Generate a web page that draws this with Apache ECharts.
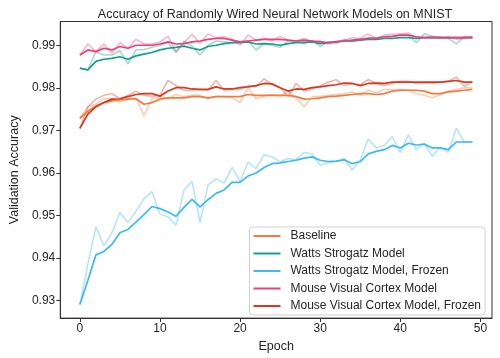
<!DOCTYPE html>
<html>
<head>
<meta charset="utf-8">
<script src="https://cdn.jsdelivr.net/npm/echarts@6/dist/echarts.min.js"></script>
<style>
html, body { margin: 0; padding: 0; background: #fff; }
#main { width: 500px; height: 358px; }
</style>
</head>
<body>
<div id="main"></div>
<script>
var myChart = echarts.init(document.getElementById('main'));

var epochs = [0, 1, 2, 3, 4, 5, 6, 7, 8, 9, 10, 11, 12, 13, 14, 15, 16, 17, 18, 19,
	20, 21, 22, 23, 24, 25, 26, 27, 28, 29, 30, 31, 32, 33, 34, 35, 36, 37, 38, 39,
	40, 41, 42, 43, 44, 45, 46, 47, 48, 49];

// raw accuracies (light lines)
var baselineRaw = [0.9729, 0.9756, 0.9762, 0.9775, 0.9775, 0.9767, 0.9775, 0.9777, 0.9735, 0.9775,
	0.9780, 0.9775, 0.9785, 0.9780, 0.9783, 0.9783, 0.9775, 0.9781, 0.9780, 0.9777,
	0.9766, 0.9801, 0.9775, 0.9781, 0.9785, 0.9781, 0.9793, 0.9777, 0.9756, 0.9780,
	0.9781, 0.9783, 0.9785, 0.9787, 0.9791, 0.9783, 0.9795, 0.9789, 0.9797, 0.9797,
	0.9797, 0.9795, 0.9787, 0.9783, 0.9777, 0.9785, 0.9793, 0.9797, 0.9801, 0.9801];
var wattsRaw = [0.9847, 0.9843, 0.9886, 0.9878, 0.9878, 0.9888, 0.9857, 0.9890, 0.9891, 0.9896,
	0.9901, 0.9907, 0.9884, 0.9911, 0.9899, 0.9878, 0.9901, 0.9911, 0.9909, 0.9907,
	0.9909, 0.9911, 0.9890, 0.9905, 0.9901, 0.9896, 0.9911, 0.9911, 0.9904, 0.9913,
	0.9898, 0.9909, 0.9905, 0.9915, 0.9909, 0.9915, 0.9919, 0.9919, 0.9921, 0.9922,
	0.9925, 0.9925, 0.9907, 0.9928, 0.9922, 0.9921, 0.9917, 0.9904, 0.9922, 0.9921];
var wattsFrozenRaw = [0.9290, 0.9386, 0.9473, 0.9428, 0.9459, 0.9507, 0.9483, 0.9510, 0.9539, 0.9556,
	0.9503, 0.9497, 0.9477, 0.9560, 0.9580, 0.9483, 0.9572, 0.9586, 0.9576, 0.9613,
	0.9580, 0.9626, 0.9610, 0.9643, 0.9638, 0.9626, 0.9634, 0.9632, 0.9648, 0.9645,
	0.9618, 0.9624, 0.9627, 0.9634, 0.9607, 0.9630, 0.9680, 0.9659, 0.9665, 0.9686,
	0.9648, 0.9690, 0.9655, 0.9670, 0.9639, 0.9661, 0.9649, 0.9706, 0.9673, 0.9673];
var mouseRaw = [0.9878, 0.9904, 0.9886, 0.9904, 0.9882, 0.9907, 0.9894, 0.9915, 0.9904, 0.9904,
	0.9909, 0.9922, 0.9886, 0.9907, 0.9927, 0.9905, 0.9928, 0.9919, 0.9921, 0.9915,
	0.9901, 0.9925, 0.9913, 0.9917, 0.9911, 0.9922, 0.9913, 0.9911, 0.9917, 0.9909,
	0.9911, 0.9904, 0.9911, 0.9913, 0.9919, 0.9917, 0.9928, 0.9917, 0.9925, 0.9927,
	0.9928, 0.9930, 0.9919, 0.9919, 0.9922, 0.9917, 0.9921, 0.9915, 0.9917, 0.9922];
var mouseFrozenRaw = [0.9705, 0.9756, 0.9774, 0.9783, 0.9787, 0.9775, 0.9783, 0.9793, 0.9783, 0.9781,
	0.9783, 0.9818, 0.9806, 0.9795, 0.9795, 0.9797, 0.9795, 0.9818, 0.9795, 0.9797,
	0.9797, 0.9806, 0.9803, 0.9822, 0.9808, 0.9801, 0.9780, 0.9811, 0.9793, 0.9798,
	0.9806, 0.9814, 0.9820, 0.9806, 0.9811, 0.9808, 0.9820, 0.9812, 0.9806, 0.9811,
	0.9816, 0.9816, 0.9811, 0.9812, 0.9811, 0.9814, 0.9816, 0.9826, 0.9804, 0.9816];

// smoothed accuracies (solid lines)
var baselineSmooth = [0.9729, 0.9746, 0.9758, 0.9766, 0.9770, 0.9772, 0.9774, 0.9775, 0.9762, 0.9766,
	0.9774, 0.9777, 0.9777, 0.9777, 0.9780, 0.9780, 0.9777, 0.9780, 0.9780, 0.9780,
	0.9780, 0.9785, 0.9783, 0.9783, 0.9783, 0.9783, 0.9783, 0.9780, 0.9774, 0.9775,
	0.9777, 0.9780, 0.9781, 0.9783, 0.9785, 0.9787, 0.9787, 0.9785, 0.9787, 0.9793,
	0.9795, 0.9795, 0.9795, 0.9793, 0.9787, 0.9787, 0.9791, 0.9793, 0.9795, 0.9797];
var wattsSmooth = [0.9847, 0.9843, 0.9863, 0.9868, 0.9870, 0.9874, 0.9868, 0.9876, 0.9880, 0.9884,
	0.9890, 0.9894, 0.9896, 0.9899, 0.9894, 0.9890, 0.9898, 0.9901, 0.9905, 0.9907,
	0.9907, 0.9909, 0.9904, 0.9905, 0.9904, 0.9901, 0.9905, 0.9907, 0.9908, 0.9909,
	0.9905, 0.9907, 0.9909, 0.9911, 0.9911, 0.9913, 0.9915, 0.9915, 0.9917, 0.9917,
	0.9919, 0.9919, 0.9917, 0.9919, 0.9919, 0.9919, 0.9919, 0.9919, 0.9919, 0.9919];
var wattsFrozenSmooth = [0.9290, 0.9347, 0.9407, 0.9415, 0.9432, 0.9459, 0.9467, 0.9484, 0.9502, 0.9521,
	0.9516, 0.9508, 0.9498, 0.9519, 0.9538, 0.9520, 0.9537, 0.9552, 0.9560, 0.9578,
	0.9578, 0.9593, 0.9600, 0.9613, 0.9622, 0.9624, 0.9627, 0.9630, 0.9635, 0.9638,
	0.9630, 0.9627, 0.9628, 0.9631, 0.9622, 0.9627, 0.9645, 0.9651, 0.9655, 0.9665,
	0.9659, 0.9670, 0.9666, 0.9668, 0.9659, 0.9659, 0.9655, 0.9673, 0.9673, 0.9673];
var mouseSmooth = [0.9878, 0.9890, 0.9886, 0.9894, 0.9890, 0.9898, 0.9894, 0.9901, 0.9901, 0.9901,
	0.9904, 0.9909, 0.9904, 0.9905, 0.9909, 0.9911, 0.9915, 0.9917, 0.9917, 0.9913,
	0.9909, 0.9911, 0.9913, 0.9915, 0.9915, 0.9915, 0.9913, 0.9911, 0.9913, 0.9911,
	0.9909, 0.9907, 0.9909, 0.9911, 0.9913, 0.9915, 0.9917, 0.9917, 0.9921, 0.9922,
	0.9925, 0.9925, 0.9921, 0.9919, 0.9919, 0.9919, 0.9919, 0.9919, 0.9919, 0.9919];
var mouseFrozenSmooth = [0.9705, 0.9739, 0.9756, 0.9766, 0.9774, 0.9775, 0.9780, 0.9785, 0.9787, 0.9787,
	0.9781, 0.9793, 0.9801, 0.9801, 0.9798, 0.9797, 0.9797, 0.9803, 0.9798, 0.9798,
	0.9801, 0.9803, 0.9806, 0.9811, 0.9810, 0.9801, 0.9793, 0.9798, 0.9797, 0.9801,
	0.9803, 0.9806, 0.9808, 0.9812, 0.9811, 0.9806, 0.9811, 0.9812, 0.9811, 0.9814,
	0.9814, 0.9814, 0.9814, 0.9814, 0.9814, 0.9814, 0.9816, 0.9818, 0.9814, 0.9814];

var names = ['Baseline', 'Watts Strogatz Model', 'Watts Strogatz Model, Frozen',
	'Mouse Visual Cortex Model', 'Mouse Visual Cortex Model, Frozen'];
var colors = ['#F37B3D', '#12A189', '#3BBBEE', '#EE3E7A', '#D63B22'];
var rawList = [baselineRaw, wattsRaw, wattsFrozenRaw, mouseRaw, mouseFrozenRaw];
var smoothList = [baselineSmooth, wattsSmooth, wattsFrozenSmooth, mouseSmooth, mouseFrozenSmooth];

var xTicks = [0, 10, 20, 30, 40, 50];
var yTicks = [0.93, 0.94, 0.95, 0.96, 0.97, 0.98, 0.99];

function pairs(arr) {
	return epochs.map(function(e, i) {
		return [e, arr[i]];
	});
}

var series = [];
for (var i = 0; i < names.length; i++) {
	series.push({
		name: names[i] + ' raw',
		type: 'line',
		data: pairs(rawList[i]),
		showSymbol: false,
		silent: true,
		lineStyle: { color: colors[i], width: 1.5, opacity: 0.4 },
		itemStyle: { color: colors[i] }
	});
}
for (var j = 0; j < names.length; j++) {
	series.push({
		name: names[j],
		type: 'line',
		data: pairs(smoothList[j]),
		showSymbol: false,
		lineStyle: { color: colors[j], width: 1.7 },
		itemStyle: { color: colors[j] }
	});
}

var textColor = '#262626';

var option = {
	animation: false,
	textStyle: { fontFamily: 'Liberation Sans' },
	title: {
		text: 'Accuracy of Randomly Wired Neural Network Models on MNIST',
		left: 270,
		textAlign: 'center',
		top: 3,
		textStyle: { fontSize: 12.5, fontWeight: 'normal', color: textColor, fontFamily: 'Liberation Sans' }
	},
	legend: {
		data: names,
		orient: 'vertical',
		right: 15,
		bottom: 43,
		icon: 'rect',
		itemWidth: 27,
		itemHeight: 2,
		itemGap: 5.5,
		padding: [3, 4, 3, 4],
		backgroundColor: '#fff',
		borderColor: '#d0d0d0',
		borderWidth: 1,
		borderRadius: 3,
		textStyle: { fontSize: 12, color: textColor, fontFamily: 'Liberation Sans', padding: [0, 0, 0, 5] }
	},
	grid: {
		left: 48,
		right: 8,
		top: 21.5,
		bottom: 36,
		show: true,
		borderColor: '#333',
		borderWidth: 1
	},
	xAxis: {
		type: 'value',
		min: -2.45,
		max: 51.45,
		name: 'Epoch',
		nameLocation: 'middle',
		nameGap: 20,
		nameTextStyle: { fontSize: 12.5, color: textColor },
		axisLine: { show: true, onZero: false, lineStyle: { color: '#333', width: 1 } },
		axisTick: { show: true, length: 4, customValues: xTicks, lineStyle: { color: '#333' } },
		axisLabel: { customValues: xTicks, fontSize: 12, color: textColor, margin: 5 },
		splitLine: { show: false }
	},
	yAxis: {
		type: 'value',
		min: 0.9258,
		max: 0.9957,
		name: 'Validation Accuracy',
		nameLocation: 'middle',
		nameGap: 34,
		nameTextStyle: { fontSize: 12.5, color: textColor },
		axisLine: { show: true, onZero: false, lineStyle: { color: '#333', width: 1 } },
		axisTick: { show: true, length: 4, customValues: yTicks, lineStyle: { color: '#333' } },
		axisLabel: {
			customValues: yTicks,
			fontSize: 12,
			color: textColor,
			margin: 5,
			formatter: function(v) { return v.toFixed(2); }
		},
		splitLine: { show: false }
	},
	series: series
};

myChart.setOption(option);
</script>
</body>
</html>
